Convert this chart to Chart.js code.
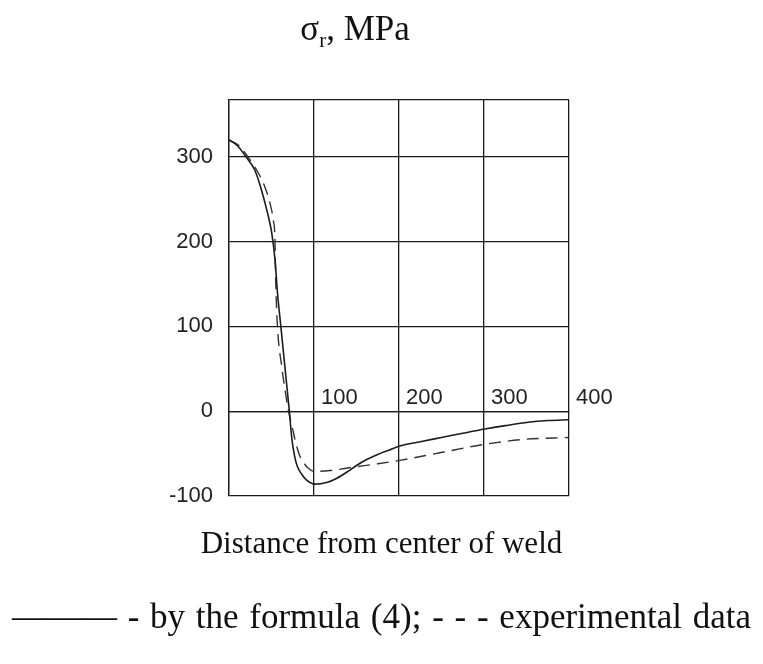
<!DOCTYPE html>
<html>
<head>
<meta charset="utf-8">
<script src="https://cdn.jsdelivr.net/npm/chart.js@4"></script>
<style>
  html, body { margin: 0; padding: 0; background: #fff; }
  #wrap { position: relative; width: 763px; height: 664px; overflow: hidden; background: #fff; }
  #c { position: absolute; left: 0; top: 0; }
  .txt { position: absolute; left: 0; width: 763px; text-align: center; font-family: 'Liberation Serif', 'Times New Roman', serif; color: #111; white-space: nowrap; }
  #title { top: 9px; width: 710px; font-size: 35px; }
  #title .sub { font-size: 21px; position: relative; top: 7px; }
  #xlabel { top: 525px; font-size: 31px; }
  #legend { top: 597px; font-size: 35px; word-spacing: 2px; }
</style>
</head>
<body>
<div id="wrap">
  <canvas id="c" width="763" height="664"></canvas>
  <div id="title" class="txt">σ<span class="sub">r</span>, MPa</div>
  <div id="xlabel" class="txt">Distance from center of weld</div>
  <div id="legend" class="txt">——— - by the formula (4); - - - experimental data</div>
</div>
<script>
// Distance from center of weld (x) and stress σr, MPa (y)
const formulaX = [0, 10, 20, 30, 37, 45, 50, 54, 57, 61, 66, 71, 74, 77, 80, 86, 91, 101, 115, 127, 140, 150, 162, 175, 188, 201, 225, 250, 275, 301, 325, 352, 375, 400];
const formulaY = [320, 313, 300, 285, 265, 235, 212, 180, 140, 100, 50, 0, -33, -52, -64, -75, -81, -86, -84, -79, -71, -64, -57, -51, -46, -41, -36, -31, -26, -21, -17, -13, -11, -10];

const experimentX = [0, 12, 25, 35, 42, 48, 52, 54, 55, 57, 62, 67, 70, 74, 78, 83, 88, 93, 100, 119, 146, 175, 201, 248, 301, 350, 400];
const experimentY = [320, 313, 296, 280, 265, 246, 226, 204, 152, 100, 53, 18, 0, -17, -35, -52, -61, -67, -71, -70, -66, -62, -58, -49, -39, -33, -31];

const xTicks = [100, 200, 300, 400];
const yTicks = [-100, 0, 100, 200, 300];

const seriesNames = ['by the formula (4)', 'experimental data'];

function toPoints(xs, ys) { return xs.map((x, i) => ({ x: x, y: ys[i] })); }

const lineColor = '#1c1c1c';
const gridColor = '#1a1a1a';
const tickFont = { family: "'Liberation Sans', Arial, sans-serif", size: 22 };

new Chart(document.getElementById('c'), {
  type: 'line',
  data: {
    datasets: [
      {
        label: seriesNames[0],
        data: toPoints(formulaX, formulaY),
        borderColor: lineColor,
        borderWidth: 1.6,
        pointRadius: 0,
        fill: false,
        cubicInterpolationMode: 'monotone'
      },
      {
        label: seriesNames[1],
        data: toPoints(experimentX, experimentY),
        borderColor: '#333',
        borderWidth: 1.4,
        borderDash: [12, 7],
        pointRadius: 0,
        fill: false,
        cubicInterpolationMode: 'monotone'
      }
    ]
  },
  options: {
    responsive: false,
    animation: false,
    layout: { padding: { left: 159, right: 194, top: 100, bottom: 168 } },
    plugins: { legend: { display: false }, tooltip: { enabled: false }, title: { display: false } },
    scales: {
      x: {
        type: 'linear',
        min: 0,
        max: 400,
        position: { y: 0 },
        grid: { color: gridColor, lineWidth: 1.3, drawTicks: false },
        border: { display: true, color: gridColor, width: 1.3 },
        afterBuildTicks: (s) => { s.ticks = [0].concat(xTicks).map(v => ({ value: v })); },
        ticks: {
          autoSkip: false,
          maxRotation: 0,
          align: 'start',
          labelOffset: 7,
          padding: -26,
          color: '#222',
          font: tickFont,
          callback: (v) => (xTicks.includes(v) ? String(v) : '')
        }
      },
      y: {
        type: 'linear',
        min: -100,
        max: 367,
        afterFit: (s) => { s.width = 70; },
        afterBuildTicks: (s) => { s.ticks = yTicks.concat([367]).map(v => ({ value: v })); },
        grid: { color: gridColor, lineWidth: 1.3, drawTicks: false },
        border: { display: true, color: gridColor, width: 1.3 },
        ticks: {
          padding: 16,
          color: '#222',
          font: tickFont,
          callback: (v) => (yTicks.includes(v) ? String(v) : '')
        }
      }
    }
  }
});
</script>
</body>
</html>
